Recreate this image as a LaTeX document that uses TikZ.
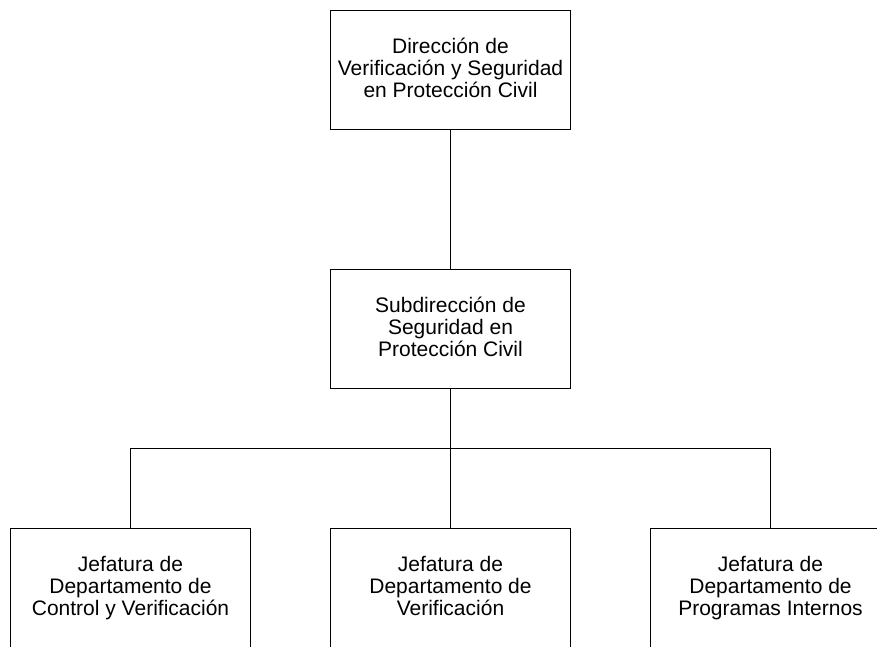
\documentclass[tikz,border=0pt]{standalone}
\usepackage{fontspec}
\setmainfont{Liberation Sans}
\usetikzlibrary{positioning,calc}
\tikzset{
	chart/.style={x=1pt,y=-1pt,line width=1pt,node distance=139pt},
	unit/.style={rectangle,draw,minimum width=240pt,minimum height=119pt,
		inner sep=2pt,align=center,font=\fontsize{21}{21.7}\selectfont,
		execute at end node=\vphantom{y}},
	link/.style={draw}
}
\begin{document}
\begin{tikzpicture}[chart]
		\clip (0,0) rectangle (877,646);
		\useasboundingbox (0,0) rectangle (877,646);
		
		\node[unit] (dir) at (450.5,70) {Dirección de\\Verificación y Seguridad\\en Protección Civil};
		\node[unit] (sub) [below=of dir] {Subdirección de\\Seguridad en\\Protección Civil};
		\node[unit] (jv) [below=of sub] {Jefatura de\\Departamento de\\Verificación};
		\node[unit] (jcv) [left=79pt of jv] {Jefatura de\\Departamento de\\Control y Verificación};
		\node[unit] (jpi) [right=79pt of jv] {Jefatura de\\Departamento de\\Programas Internos};
		\coordinate (bus) at ($(sub.south)!0.43!(jv.north)$);
		
		\path[link] (dir) -- (sub);
		\path[link] (sub) -- (jv);
		\path[link] (bus) -| (jcv);
		\path[link] (bus) -| (jpi);
		\end{tikzpicture}
\end{document}
